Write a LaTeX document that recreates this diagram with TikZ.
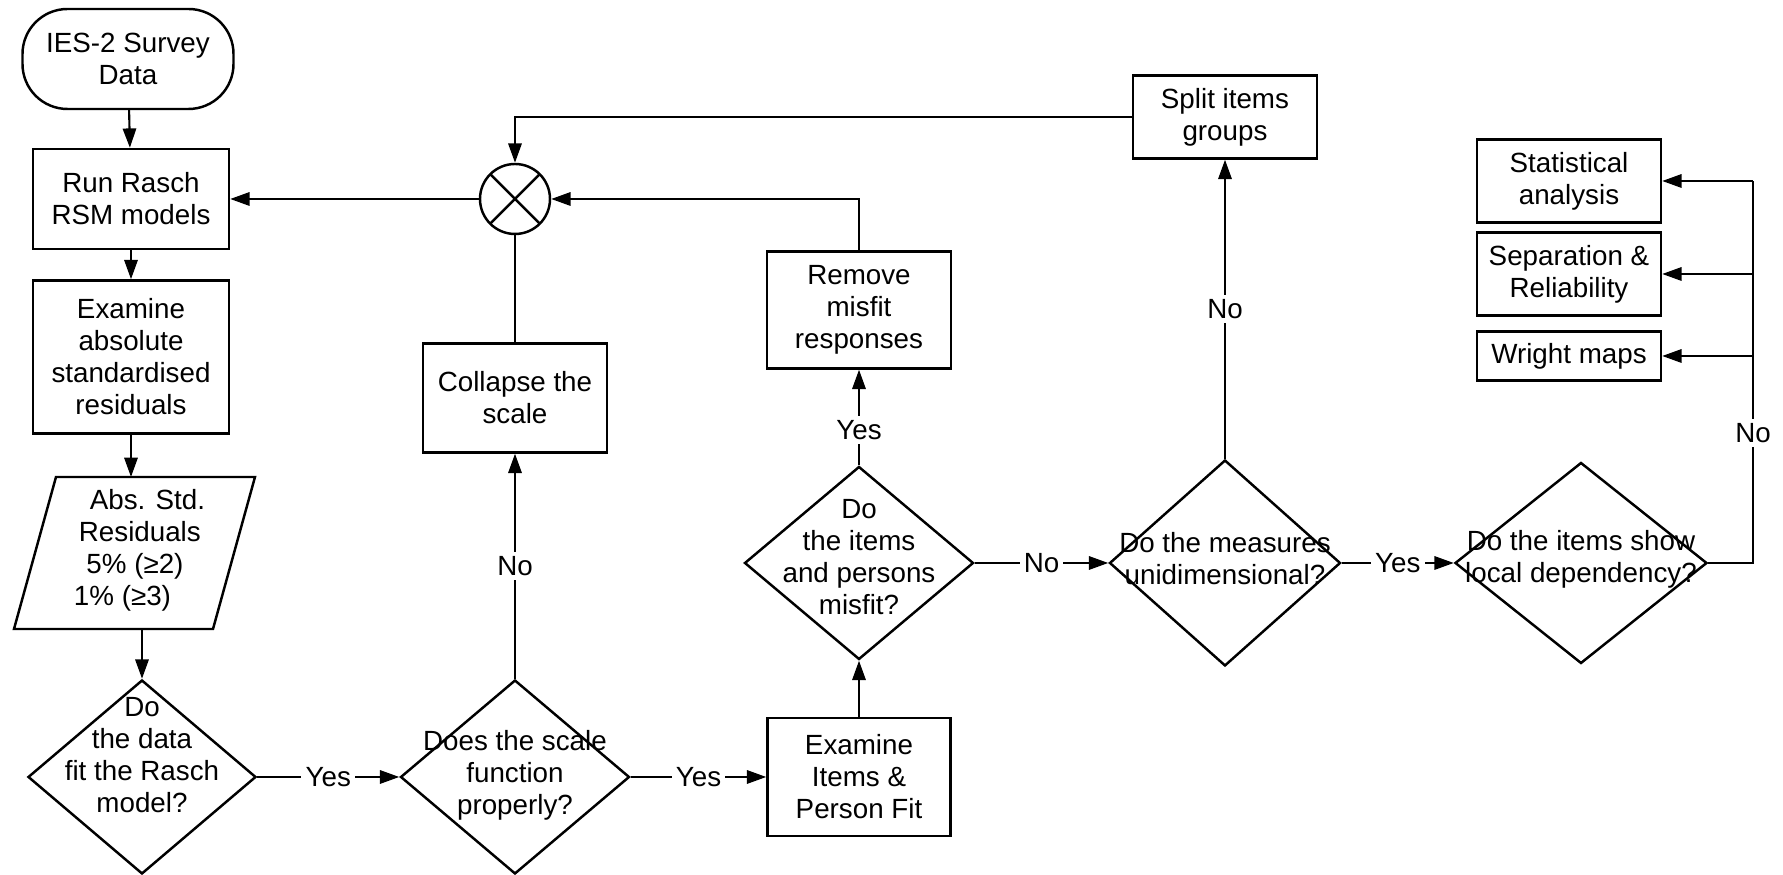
\documentclass[tikz,border=0pt]{standalone}
\usepackage{fontspec}
\setmainfont{Liberation Sans}
\usetikzlibrary{arrows.meta,calc,positioning,shapes.geometric}

\begin{document}
\begin{tikzpicture}[>={Triangle[length=5.5pt,width=3.8pt]},
  font=\fontsize{7.9pt}{9.1pt}\selectfont,
  flow/.style={draw,line width=.6pt},
  box/.style={rectangle,draw,line width=.7pt,align=center,inner sep=0pt,minimum width=1.84cm},
  decision/.style={diamond,draw,line width=.7pt,inner sep=0pt},
  txt/.style={align=center,inner sep=0pt},
  lab/.style={fill=white,inner sep=1.2pt}]
\path[use as bounding box] (0,0) rectangle (17.83,8.75);
\fill[white] (0,0) rectangle (17.83,8.75);

% linke Spalte
\node[box,rounded corners=.45cm,minimum width=2.11cm,minimum height=1.0cm] (start) at (1.28,8.16) {IES-2 Survey\\Data};
\node[box,minimum width=1.96cm,minimum height=1.0cm] (rsm) at (1.31,6.76) {Run Rasch\\RSM models};
\node[box,minimum width=1.96cm,minimum height=1.53cm] (absres) at (1.31,5.18) {Examine\\absolute\\standardised\\residuals};

% Parallelogramm mit Grenzwerten
\draw[line width=.7pt] (0.14,2.46) -- (0.56,3.98) -- (2.55,3.98) -- (2.13,2.46) -- cycle;
\coordinate (absin) at (1.31,3.98);
\coordinate (absout) at (1.42,2.46);
\node[txt] (absstd) at (1.35,3.25) {\hspace*{.9em}Abs. Std.\\\hspace*{.35em}Residuals\\5\% (≥2)\hspace*{.3em}\\1\% (≥3)\hspace*{.9em}};

% Entscheidungen unten
\node[decision,minimum width=2.28cm,minimum height=1.94cm] (fit) at (1.42,0.98) {};
\node[txt] (fittxt) at (1.42,1.20) {Do\\the data\\fit the Rasch\\model?};
\node[decision,minimum width=2.29cm,minimum height=1.94cm] (scale) at (5.15,0.98) {};
\node[txt] (scaletxt) at (5.15,1.00) {Does the scale\\function\\properly?};
\node[box,minimum width=1.83cm,minimum height=1.18cm] (exfit) at (8.59,0.98) {Examine\\Items \&\\Person Fit};

% Rueckfuehrung
\node[box,minimum height=1.09cm] (collapse) at (5.15,4.77) {Collapse the\\scale};
\node[circle,draw,line width=.7pt,minimum size=.70cm,inner sep=0pt,
  path picture={\draw[line width=.7pt]
    (path picture bounding box.north west) -- (path picture bounding box.south east)
    (path picture bounding box.south west) -- (path picture bounding box.north east);}] (circ) at (5.15,6.76) {};
\node[box,minimum height=1.17cm] (remove) at (8.59,5.65) {Remove\\misfit\\responses};
\node[box,minimum height=.83cm] (split) at (12.25,7.58) {Split items\\groups};

% Entscheidungen Mitte
\node[decision,minimum width=2.29cm,minimum height=1.93cm] (items) at (8.59,3.12) {};
\node[txt] (itemstxt) at (8.59,3.18) {Do\\the items\\and persons\\misfit?};
\node[decision,minimum width=2.31cm,minimum height=2.06cm] (measures) at (12.25,3.12) {};
\node[txt] (measurestxt) at (12.25,3.16) {Do the measures\\unidimensional?};
\node[decision,minimum width=2.52cm,minimum height=2.01cm] (local) at (15.81,3.12) {};
\node[txt] (localtxt) at (15.81,3.16) {Do the items show\\local dependency?};

% Ergebnisse
\node[box,minimum height=.83cm] (stat) at (15.69,6.94) {Statistical\\analysis};
\node[box,minimum height=.83cm] (sep) at (15.69,6.01) {Separation \&\\Reliability};
\node[box,minimum height=.49cm] (wright) at (15.69,5.19) {Wright maps};

% Verbindungen
\draw[->,flow] (start) -- (rsm);
\draw[->,flow] (rsm) -- (absres);
\draw[->,flow] (absres) -- (absin);
\draw[->,flow] (absout) -- (fit);
\draw[->,flow] (fit) -- node[lab]{Yes} (scale);
\draw[->,flow] (scale) -- node[lab]{No} (collapse);
\draw[flow] (collapse) -- (circ);
\draw[->,flow] (circ) -- (rsm);
\draw[->,flow] (scale) -- node[lab]{Yes} (exfit);
\draw[->,flow] (exfit) -- (items);
\draw[->,flow] (items) -- node[lab,pos=.37]{Yes} (remove);
\draw[->,flow] (remove.north) |- (circ);
\draw[->,flow] (items) -- node[lab]{No} (measures);
\draw[->,flow] (measures) -- node[lab]{No} (split);
\draw[->,flow] (split) -| (circ);
\draw[->,flow] (measures) -- node[lab]{Yes} (local);
\coordinate (nobus) at (17.53,6.94);
\draw[flow] (local) -| node[lab,pos=.67]{No} (nobus);
\foreach \b in {stat,sep,wright}
  \draw[->,flow] (nobus |- \b.east) -- (\b.east);
\end{tikzpicture}
\end{document}
